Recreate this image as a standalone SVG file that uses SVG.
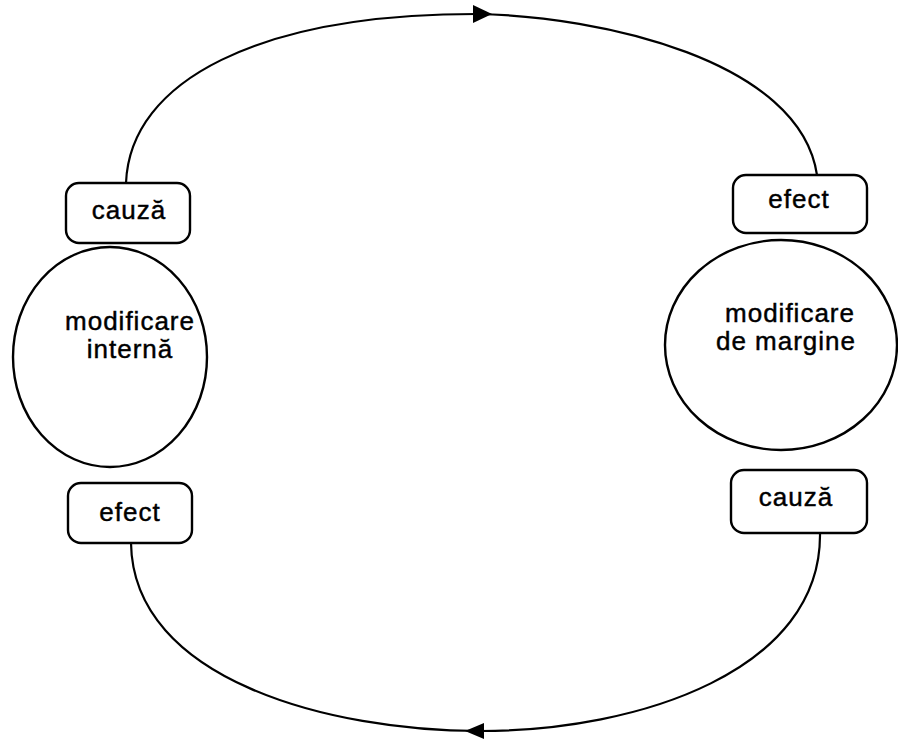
<svg xmlns="http://www.w3.org/2000/svg" width="898" height="740" viewBox="0 0 898 740">
  <style>
    .box { fill: #ffffff; stroke: #000000; stroke-width: 2.4; }
    .node-shape { fill: #ffffff; stroke: #000000; stroke-width: 2.4; }
    .link { fill: none; stroke: #000000; stroke-width: 2.2; }
    .label { font-family: "Liberation Sans", Arial, sans-serif; font-size: 26px; letter-spacing: 1px; fill: #000000; stroke: #000000; stroke-width: 0.45; text-anchor: middle; }
  </style>
  <defs>
    <marker id="arrow-top" markerUnits="userSpaceOnUse" markerWidth="20" markerHeight="18" refX="3" refY="9" orient="auto">
      <path d="M0,0 L19,9 L0,18 z" fill="#000000"/>
    </marker>
    <marker id="arrow-bottom" markerUnits="userSpaceOnUse" markerWidth="20" markerHeight="16" refX="4" refY="8" orient="auto">
      <path d="M0,0 L19,8 L0,16 z" fill="#000000"/>
    </marker>
  </defs>

  <rect width="898" height="740" fill="#ffffff"/>

  <!-- connectors: upper loop (cause -> effect) and lower loop (cause -> effect) -->
  <g id="connectors">
    <path class="link" d="M126,183 C130,80 260,14 476,14" marker-end="url(#arrow-top)"/>
    <path class="link" d="M476,14 C600,16 800,60 817,175"/>
    <path class="link" d="M820,533 C822,670 640,731 480,731" marker-end="url(#arrow-bottom)"/>
    <path class="link" d="M480,731 C330,731 133,680 131,543"/>
  </g>

  <!-- left side: internal change -->
  <g id="modificare-interna">
    <ellipse class="node-shape" cx="110" cy="357" rx="97" ry="110"/>
    <text class="label" x="130" y="330">modificare</text>
    <text class="label" x="130" y="358">internă</text>
  </g>
  <g id="cauza-stanga">
    <rect class="box" x="66" y="183" width="124" height="60" rx="13"/>
    <text class="label" x="129" y="219">cauză</text>
  </g>
  <g id="efect-stanga">
    <rect class="box" x="68" y="483" width="124" height="60" rx="13"/>
    <text class="label" x="130" y="521">efect</text>
  </g>

  <!-- right side: boundary change -->
  <g id="modificare-de-margine">
    <ellipse class="node-shape" cx="781" cy="345" rx="116" ry="105"/>
    <text class="label" x="790" y="322">modificare</text>
    <text class="label" x="786" y="350">de margine</text>
  </g>
  <g id="efect-dreapta">
    <rect class="box" x="733" y="175" width="134" height="58" rx="13"/>
    <text class="label" x="799" y="208">efect</text>
  </g>
  <g id="cauza-dreapta">
    <rect class="box" x="731" y="470" width="136" height="63" rx="13"/>
    <text class="label" x="796" y="506">cauză</text>
  </g>
</svg>
